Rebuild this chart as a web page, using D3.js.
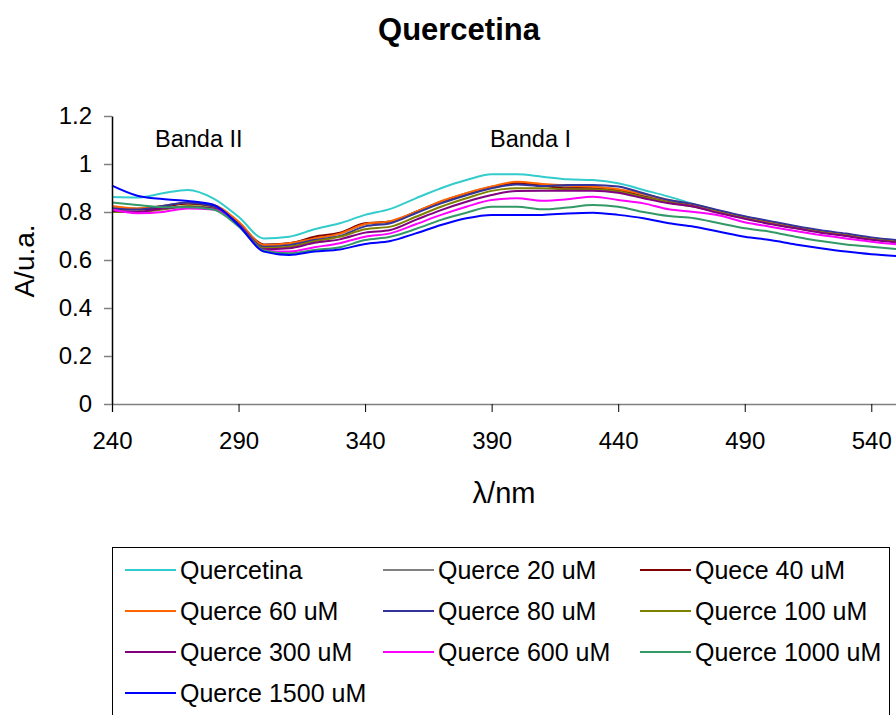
<!DOCTYPE html>
<html>
<head>
<meta charset="utf-8">
<script src="https://cdn.jsdelivr.net/npm/d3@7"></script>
<style>
  html, body { margin: 0; padding: 0; background: #fff; }
  svg { display: block; font-family: "Liberation Sans", Arial, Helvetica, sans-serif; }
</style>
</head>
<body>
<svg id="chart" width="896" height="715"></svg>
<script>
// ---- data ----
const wavelengths = [240,250,260,270,280,290,300,310,320,330,340,350,360,370,380,390,400,410,420,430,440,450,460,470,480,490,500,510,520,530,540,550];

const seriesNames = ["Quercetina","Querce 20 uM","Quece 40 uM","Querce 60 uM","Querce 80 uM","Querce 100 uM","Querce 300 uM","Querce 600 uM","Querce 1000 uM","Querce 1500 uM"];
const seriesColors = ["#33CCCC","#808080","#800000","#FF6600","#333399","#808000","#800080","#FF00FF","#339966","#0000FF"];

const quercetina = [0.862,0.860,0.878,0.892,0.857,0.780,0.690,0.697,0.728,0.753,0.788,0.813,0.857,0.899,0.933,0.957,0.957,0.947,0.936,0.933,0.920,0.892,0.864,0.832,0.804,0.780,0.760,0.739,0.721,0.707,0.690,0.679];
const q20   = [0.820,0.815,0.825,0.835,0.820,0.750,0.660,0.670,0.690,0.710,0.750,0.760,0.800,0.843,0.878,0.905,0.920,0.915,0.905,0.900,0.890,0.868,0.845,0.825,0.800,0.777,0.756,0.737,0.718,0.704,0.688,0.677];
const q40   = [0.810,0.810,0.820,0.835,0.825,0.755,0.665,0.670,0.697,0.714,0.753,0.760,0.800,0.843,0.875,0.904,0.920,0.910,0.899,0.899,0.892,0.864,0.840,0.825,0.800,0.776,0.755,0.735,0.717,0.703,0.687,0.676];
const q60   = [0.825,0.815,0.825,0.840,0.830,0.760,0.662,0.670,0.690,0.710,0.750,0.762,0.800,0.845,0.878,0.906,0.926,0.917,0.910,0.905,0.895,0.875,0.850,0.830,0.804,0.778,0.758,0.738,0.720,0.706,0.690,0.679];
const q80   = [0.815,0.810,0.825,0.840,0.825,0.750,0.655,0.662,0.683,0.700,0.740,0.753,0.795,0.836,0.870,0.899,0.915,0.908,0.913,0.913,0.906,0.878,0.850,0.832,0.806,0.782,0.762,0.742,0.724,0.710,0.694,0.683];
const q100  = [0.800,0.800,0.810,0.825,0.815,0.745,0.650,0.655,0.678,0.697,0.728,0.739,0.780,0.822,0.857,0.888,0.899,0.899,0.895,0.895,0.885,0.862,0.840,0.822,0.798,0.774,0.752,0.733,0.716,0.702,0.686,0.675];
const q300  = [0.805,0.800,0.815,0.820,0.815,0.745,0.645,0.649,0.672,0.686,0.714,0.725,0.767,0.808,0.843,0.871,0.888,0.889,0.889,0.889,0.880,0.857,0.836,0.822,0.795,0.772,0.750,0.732,0.714,0.700,0.684,0.673];
const q600  = [0.810,0.795,0.800,0.815,0.810,0.745,0.640,0.635,0.653,0.670,0.697,0.711,0.749,0.788,0.822,0.850,0.857,0.847,0.853,0.864,0.850,0.836,0.811,0.800,0.785,0.757,0.739,0.721,0.704,0.690,0.676,0.665];
const q1000 = [0.840,0.829,0.820,0.820,0.810,0.740,0.640,0.628,0.642,0.653,0.683,0.697,0.729,0.767,0.797,0.822,0.822,0.811,0.819,0.829,0.822,0.800,0.783,0.774,0.753,0.732,0.718,0.697,0.679,0.665,0.655,0.646];
const q1500 = [0.910,0.868,0.854,0.846,0.830,0.745,0.635,0.621,0.635,0.644,0.667,0.679,0.711,0.746,0.774,0.788,0.788,0.788,0.794,0.797,0.788,0.774,0.753,0.739,0.718,0.697,0.683,0.665,0.649,0.635,0.624,0.617];

const seriesValues = [quercetina,q20,q40,q60,q80,q100,q300,q600,q1000,q1500];

const xTicks = [240,290,340,390,440,490,540];
const yTicks = [0,0.2,0.4,0.6,0.8,1,1.2];

// ---- chart ----
const svg = d3.select("#chart");
const x = d3.scaleLinear().domain([240, 550]).range([112, 896.6]);
const y = d3.scaleLinear().domain([0, 1.2]).range([404, 116]);

// title
svg.append("text").attr("x", 459).attr("y", 40).attr("text-anchor", "middle")
  .attr("font-size", 31).attr("font-weight", "bold").attr("fill", "#000").text("Quercetina");

// lines
const line = d3.line().x((d, i) => x(wavelengths[i])).y(d => y(d)).curve(d3.curveMonotoneX);
const gLines = svg.append("g");
seriesValues.forEach((vals, k) => {
  gLines.append("path").datum(vals).attr("d", line)
    .attr("fill", "none").attr("stroke", seriesColors[k]).attr("stroke-width", 2);
});

// x axis
const xAxis = svg.append("g").attr("transform", "translate(0,404)")
  .call(d3.axisBottom(x).tickValues(xTicks).tickSize(8).tickPadding(20).tickFormat(d3.format("d")));
xAxis.select(".domain").attr("stroke", "#808080").attr("stroke-width", 1.5);
xAxis.selectAll(".tick line").attr("stroke", "#000").attr("stroke-width", 1);
xAxis.selectAll(".tick text").attr("font-size", 24).attr("fill", "#000")
  .attr("font-family", "Liberation Sans, Arial, sans-serif");

// y axis
const yAxis = svg.append("g").attr("transform", "translate(112,0)")
  .call(d3.axisLeft(y).tickValues(yTicks).tickSize(8).tickPadding(12).tickSizeOuter(0).tickFormat(d => d3.format("")(+d.toFixed(1))));
yAxis.select(".domain").attr("stroke", "#000").attr("stroke-width", 1.5);
yAxis.selectAll(".tick line").attr("stroke", "#808080").attr("stroke-width", 1.5);
yAxis.selectAll(".tick text").attr("font-size", 24).attr("fill", "#000")
  .attr("font-family", "Liberation Sans, Arial, sans-serif");

// axis titles
svg.append("text").attr("transform", "translate(34,261) rotate(-90)").attr("text-anchor", "middle")
  .attr("font-size", 28).attr("fill", "#000").text("A/u.a.");
svg.append("text").attr("x", 504).attr("y", 503).attr("text-anchor", "middle")
  .attr("font-size", 29).attr("fill", "#000").text("λ/nm");

// band labels
svg.append("text").attr("x", 155).attr("y", 147).attr("font-size", 23.5).attr("fill", "#000").text("Banda II");
svg.append("text").attr("x", 490).attr("y", 147).attr("font-size", 23.5).attr("fill", "#000").text("Banda I");

// legend
const lg = svg.append("g");
lg.append("rect").attr("x", 112.5).attr("y", 547.5).attr("width", 777).attr("height", 180)
  .attr("fill", "#fff").attr("stroke", "#000").attr("stroke-width", 1);
const colX = [125, 383, 640];
const rowY = [570, 611, 652, 693];
seriesNames.forEach((name, k) => {
  const cx = colX[k % 3], cy = rowY[Math.floor(k / 3)];
  lg.append("line").attr("x1", cx).attr("x2", cx + 51).attr("y1", cy).attr("y2", cy)
    .attr("stroke", seriesColors[k]).attr("stroke-width", 2);
  lg.append("text").attr("x", cx + 55).attr("y", cy + 9).attr("font-size", 25).attr("fill", "#000").text(name);
});
</script>
</body>
</html>
